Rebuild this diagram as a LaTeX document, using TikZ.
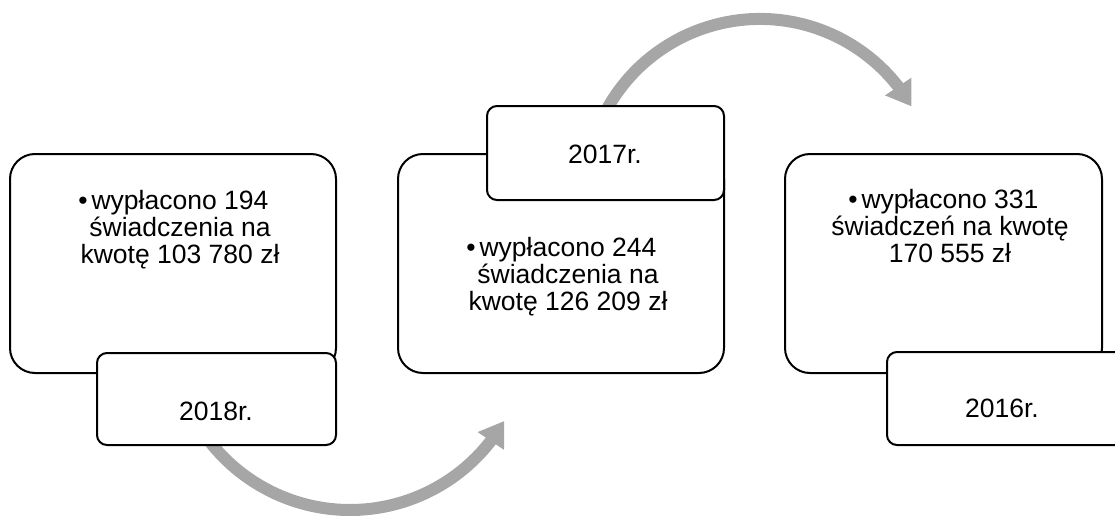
\documentclass[tikz,border=0pt]{standalone}
\usepackage{fontspec}
\setmainfont{Liberation Sans}
\usetikzlibrary{arrows.meta,bending}
\definecolor{arrowgray}{RGB}{166,166,166}
\newcommand{\bul}{\llap{•\hspace{4pt}}}
\tikzset{
  mainbox/.style={draw=black, line width=2pt, rounded corners=25pt, fill=white},
  yearbox/.style={draw=black, line width=2pt, rounded corners=10pt, fill=white},
  bodytext/.style={align=center, inner sep=0pt, font=\fontsize{26.5}{27}\selectfont},
  yeartext/.style={inner sep=0pt, font=\fontsize{26.5}{27}\selectfont},
  cyclearrow/.style={draw=arrowgray, line width=12pt, -{Triangle[width=30pt,length=24pt]}}
}
\begin{document}
\begin{tikzpicture}[x=1pt,y=-1pt]
\useasboundingbox (0,0) rectangle (1115,519);
\clip (0,0) rectangle (1115,519);
% arrows (behind the boxes)
\coordinate (a1s) at (204.2,434.1);
\coordinate (a2s) at (601.4,120);
\draw[cyclearrow] (a1s) arc[start angle=215, end angle=330, radius=178pt];
\draw[cyclearrow] (a2s) arc[start angle=155, end angle=30, radius=175pt];
% main boxes
\path[mainbox] (10,154) rectangle (336,373) coordinate (b1);
\path[mainbox] (398,154) rectangle (724,373) coordinate (b2);
\path[mainbox] (785,154) rectangle (1102,373) coordinate (b3);
% year boxes
\path[yearbox] (97,353) rectangle (336,445) coordinate (y1);
\path[yearbox] (487,106) rectangle (724,200) coordinate (y2);
\path[yearbox] (887,352) rectangle (1127,445) coordinate (y3);
% texts (anchor base = baseline of last line)
\node[bodytext, anchor=base] (t1) at (180,263) {\bul wypłacono 194\\świadczenia na\\kwotę 103 780 zł};
\node[bodytext, anchor=base] (t2) at (568,310) {\bul wypłacono 244\\świadczenia na\\kwotę 126 209 zł};
\node[bodytext, anchor=base] (t3) at (950,262) {\bul wypłacono 331\\świadczeń na kwotę\\170 555 zł};
\node[yeartext, anchor=base] (n1) at (216,420) {2018r.};
\node[yeartext, anchor=base] (n2) at (605,163) {2017r.};
\node[yeartext, anchor=base] (n3) at (1002,417) {2016r.};
\end{tikzpicture}
\end{document}
